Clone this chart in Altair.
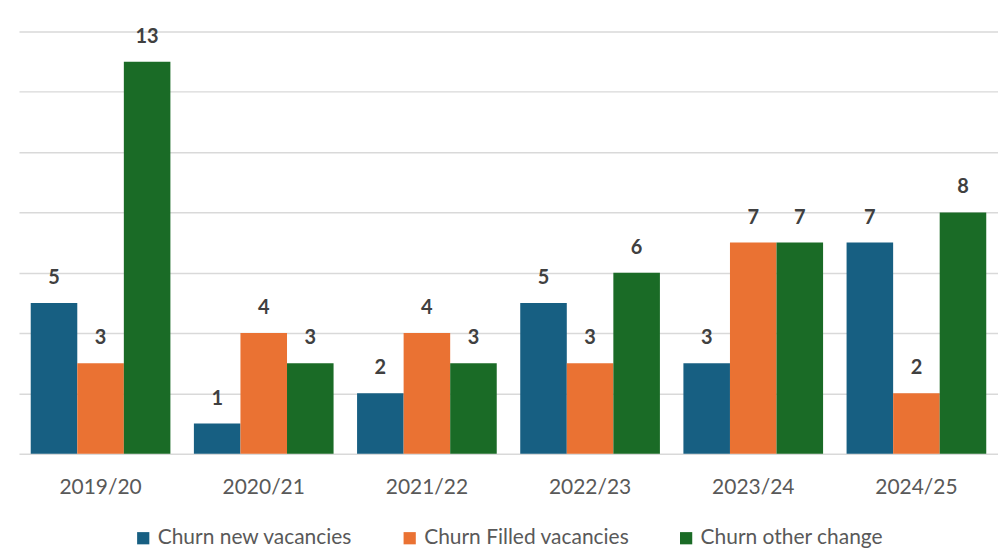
import altair as alt
import pandas as pd

years = ["2019/20", "2020/21", "2021/22", "2022/23", "2023/24", "2024/25"]
series = ["Churn new vacancies", "Churn Filled vacancies", "Churn other change"]
new_vac = [5, 1, 2, 5, 3, 7]
filled_vac = [3, 4, 4, 3, 7, 2]
other_change = [13, 3, 3, 6, 7, 8]
colors = ["#175f82", "#ea7233", "#1a6b26"]

rows = []
for s, vals in zip(series, [new_vac, filled_vac, other_change]):
    for y, v in zip(years, vals):
        rows.append({"year": y, "series": s, "value": v})
df = pd.DataFrame(rows)

font = "Lato"

x = alt.X("year:N", sort=years, title=None,
          scale=alt.Scale(paddingInner=0.144, paddingOuter=0.072),
          axis=alt.Axis(labelAngle=0, labelFontSize=21, labelColor="#595959",
                        labelFont=font, ticks=False, domain=False, labelPadding=23))
xo = alt.XOffset("series:N", sort=series, scale=alt.Scale(domain=series, paddingInner=0, paddingOuter=0))
y = alt.Y("value:Q", title=None,
          scale=alt.Scale(domain=[0, 14], nice=False),
          axis=alt.Axis(values=[0, 2, 4, 6, 8, 10, 12, 14], labels=False, ticks=False,
                        domain=False, grid=True, gridColor="#d9d9d9", gridWidth=1.5))

bars = alt.Chart(df).mark_bar().encode(
    x=x, xOffset=xo, y=y,
    color=alt.Color("series:N", sort=series,
                    scale=alt.Scale(domain=series, range=colors),
                    legend=alt.Legend(title=None, orient="none", legendX=114, legendY=497,
                                      direction="horizontal", columns=3,
                                      symbolType="square", symbolSize=150,
                                      labelFontSize=21, labelFont=font, labelColor="#595959",
                                      columnPadding=46, labelOffset=4, symbolStrokeWidth=0,
                                      labelLimit=400)),
)

labels = alt.Chart(df).mark_text(dy=-19, baseline="alphabetic", fontSize=20,
                                 fontWeight="bold", font=font, color="#404040").encode(
    x=x, xOffset=xo, y=y, text=alt.Text("value:Q"),
)

chart = (bars + labels).properties(
    width=981, height=423,
    autosize=alt.AutoSizeParams(type="none"),
    padding={"left": 11, "top": 23, "right": 0, "bottom": 94},
).configure_view(stroke=None)

chart.save("out.html", embed_options={"renderer": "svg", "actions": False})
